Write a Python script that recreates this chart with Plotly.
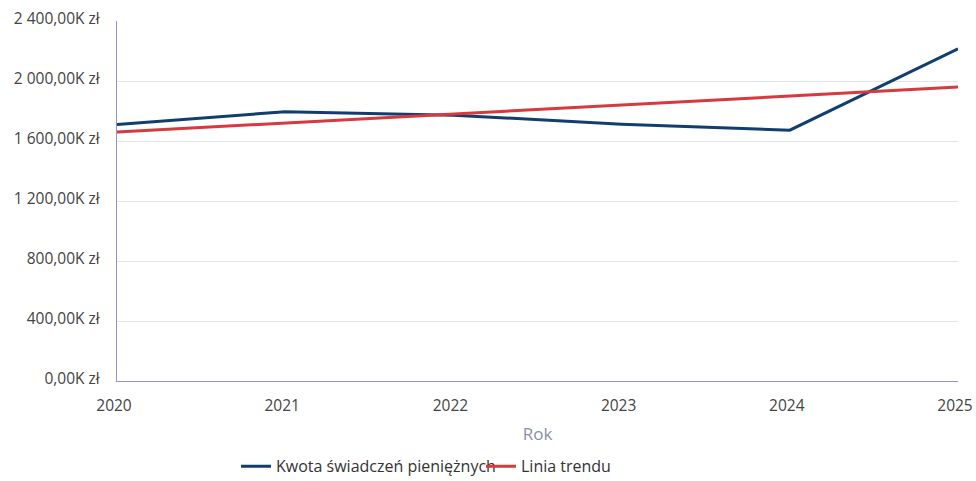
import plotly.graph_objects as go

years = [2020, 2021, 2022, 2023, 2024, 2025]
kwota = [1710, 1795, 1772, 1712, 1672, 2215]   # tys. zł
trend = [1660, 1720, 1780, 1840, 1900, 1960]   # tys. zł
y_ticks = [0, 400, 800, 1200, 1600, 2000, 2400]

def fmt(v):
    s = f"{v:,.2f}".replace(",", " ").replace(".", ",")
    return s + "K zł"

y_labels = [fmt(v) for v in y_ticks]

fig = go.Figure()
fig.add_trace(go.Scatter(x=years, y=kwota, mode="lines", name="Kwota świadczeń pieniężnych",
                         line=dict(color="#123e6e", width=3)))
fig.add_trace(go.Scatter(x=years, y=trend, mode="lines", name="Linia trendu",
                         line=dict(color="#d6393e", width=3)))

fig.update_layout(
    width=976, height=481,
    margin=dict(l=117, r=18, t=21, b=99.5, autoexpand=False),
    paper_bgcolor="white", plot_bgcolor="white",
    font=dict(family="Open Sans", size=15.5, color="#444444"),
    showlegend=True,
    legend=dict(orientation="h", x=0.1415, xanchor="left", y=-0.237, yanchor="middle",
                font=dict(size=16, color="#333333"), itemwidth=30, tracegroupgap=0,
                entrywidth=200, entrywidthmode="pixels",
                bgcolor="rgba(0,0,0,0)"),
    xaxis=dict(range=[2020, 2025], tickmode="array", tickvals=years,
               ticktext=[str(y) for y in years], showgrid=False, zeroline=False,
               showline=True, linecolor="#9393c0", linewidth=1.3, automargin=False,
               ticklabeloverflow="allow", ticklabelshift=-3,
               tickfont=dict(size=15.5, color="#444444"), ticks="", ticklabelstandoff=10,
               title=dict(text="Rok", font=dict(size=17, color="#8891a8"), standoff=13)),
    yaxis=dict(range=[0, 2400], tickmode="array", tickvals=y_ticks, ticktext=y_labels,
               showgrid=True, gridcolor="#e4e4ec", gridwidth=1, zeroline=False,
               showline=True, linecolor="#9393c0", linewidth=1.3, automargin=False,
               ticklabelshift=-2,
               tickfont=dict(size=15.5, color="#444444"), ticks="", ticklabelstandoff=13),
)

fig.write_html("out.html", config={"displayModeBar": False},
               post_script="document.body.style.margin='0px';")
